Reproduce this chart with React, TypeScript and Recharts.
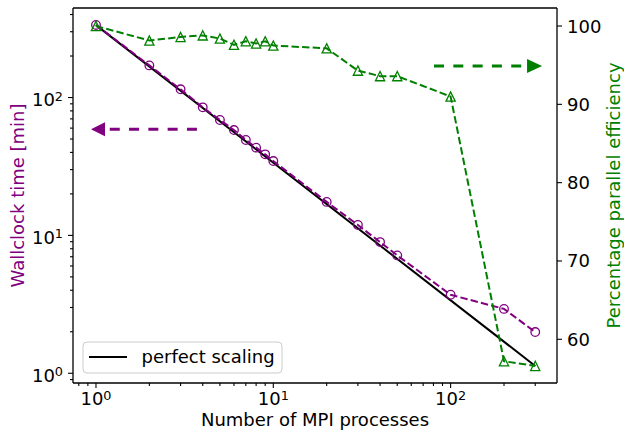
import React from 'react';
import {
  ComposedChart, Line, XAxis, YAxis, ReferenceLine, ReferenceDot,
} from 'recharts';

// ---- data ----
const processes = [1, 2, 3, 4, 5, 6, 7, 8, 9, 10, 20, 30, 40, 50, 100, 200, 300];
const wallclock = [336, 171, 114.7, 84.9, 68.7, 58.1, 49.2, 43.3, 38.7, 34.6, 17.5, 11.9, 8.94, 7.16, 3.71, 2.93, 1.99];
const efficiency = [100, 98.15, 98.6, 98.8, 98.4, 97.6, 98.06, 97.77, 98.04, 97.5, 97.15, 94.3, 93.6, 93.6, 91.0, 57.2, 56.6];
const perfectX = [1, 300];
const perfectY = [335, 1.13];

const xTicks = [0.8, 0.9, 1, 2, 3, 4, 5, 6, 7, 8, 9, 10, 20, 30, 40, 50, 60, 70, 80, 90, 100, 200, 300];
const yLeftTicks = [0.9, 1, 2, 3, 4, 5, 6, 7, 8, 9, 10, 20, 30, 40, 50, 60, 70, 80, 90, 100, 200, 300, 400];
const yRightTicks = [60, 70, 80, 90, 100];

const xDomain = [0.742, 398];
const yLeftDomain = [0.85, 446];
const yRightDomain = [54.42, 102.3];

// annotation arrows (data coords): tail x, head-base x, tip x, y
const leftArrow = { tail: 3.71, base: 1.124, tip: 0.937, y: 58.8 };
const rightArrow = { tail: 80.6, base: 269.8, tip: 327.8, y: 94.89 };

const PURPLE = '#800080';
const GREEN = '#008000';
const FONT = 'DejaVu Sans, sans-serif';
const FS = 18;

const wallData = processes.map((p, i) => ({ x: p, y: wallclock[i] }));
const effData = processes.map((p, i) => ({ x: p, y: efficiency[i] }));
const perfData = perfectX.map((p, i) => ({ x: p, y: perfectY[i] }));

const isMajor = (v: number) => {
  const e = Math.round(Math.log10(v));
  return Math.abs(v - Math.pow(10, e)) < 1e-9;
};

const XTick = (props: any) => {
  const { x, y, payload } = props;
  const v = payload.value;
  const major = isMajor(v);
  const e = Math.round(Math.log10(v));
  return (
    <g>
      <line x1={x} x2={x} y1={y} y2={y + (major ? 5 : 3)} stroke="#000" strokeWidth={1.1} />
      {major && (
        <text x={x} y={y + 22} textAnchor="middle" fontSize={FS} fontFamily={FONT} fill="#000">
          10<tspan dy={-5.5} fontSize={12.8}>{e}</tspan>
        </text>
      )}
    </g>
  );
};

const YLeftTick = (props: any) => {
  const { x, y, payload } = props;
  const v = payload.value;
  const major = isMajor(v);
  const e = Math.round(Math.log10(v));
  return (
    <g>
      <line x1={x} x2={x - (major ? 5 : 3)} y1={y} y2={y} stroke="#000" strokeWidth={1.1} />
      {major && (
        <text x={x - 10} y={y + 8.5} textAnchor="end" fontSize={FS} fontFamily={FONT} fill="#000">
          10<tspan dy={-5.5} fontSize={12.8}>{e}</tspan>
        </text>
      )}
    </g>
  );
};

const YRightTick = (props: any) => {
  const { x, y, payload } = props;
  return (
    <g>
      <line x1={x} x2={x + 5} y1={y} y2={y} stroke="#000" strokeWidth={1.1} />
      <text x={x + 10} y={y + 6.5} textAnchor="start" fontSize={FS} fontFamily={FONT} fill="#000">
        {payload.value}
      </text>
    </g>
  );
};

const circleDot = (p: any) => (
  <circle key={`c${p.index}`} cx={p.cx} cy={p.cy} r={4.3} fill="none" stroke={PURPLE} strokeWidth={1.3} />
);

const triDot = (p: any) => {
  const s = 4.6;
  const pts = `${p.cx},${p.cy - s} ${p.cx - s},${p.cy + s} ${p.cx + s},${p.cy + s}`;
  return <polygon key={`t${p.index}`} points={pts} fill="none" stroke={GREEN} strokeWidth={1.3} />;
};

const leftHead = (p: any) => {
  const { cx, cy } = p;
  return <polygon points={`${cx},${cy} ${cx + 14},${cy - 7} ${cx + 14},${cy + 7}`} fill={PURPLE} />;
};
const rightHead = (p: any) => {
  const { cx, cy } = p;
  return <polygon points={`${cx},${cy} ${cx - 15},${cy - 7} ${cx - 15},${cy + 7}`} fill={GREEN} />;
};

const XLabel = (props: any) => {
  const vb = props.viewBox;
  return (
    <text x={vb.x + vb.width / 2} y={vb.y + 43} textAnchor="middle" fontSize={FS} fontFamily={FONT} fill="#000">
      Number of MPI processes
    </text>
  );
};
const YLeftLabel = (props: any) => {
  const vb = props.viewBox;
  const cy = vb.y + vb.height / 2;
  return (
    <text transform={`translate(24,${cy}) rotate(-90)`} textAnchor="middle" fontSize={FS} fontFamily={FONT} fill={PURPLE}>
      Wallclock time [min]
    </text>
  );
};
const YRightLabel = (props: any) => {
  const vb = props.viewBox;
  const cy = vb.y + vb.height / 2;
  return (
    <text transform={`translate(620,${cy}) rotate(-90)`} textAnchor="middle" fontSize={FS} fontFamily={FONT} fill={GREEN}>
      Percentage parallel efficiency
    </text>
  );
};

const LegendBox = () => (
  <g>
    <rect x={83} y={342} width={199} height={31} rx={4} ry={4} fill="#ffffff" fillOpacity={0.8} stroke="#cccccc" strokeWidth={1} />
    <line x1={89} x2={127} y1={357} y2={357} stroke="#000" strokeWidth={2} />
    <text x={141.5} y={363} fontSize={FS} fontFamily={FONT} fill="#000">perfect scaling</text>
  </g>
);

export default function App() {
  return (
    <div style={{ position: 'absolute', left: 0, top: 0, width: 624, height: 434, background: '#fff' }}>
      <ComposedChart width={624} height={434} margin={{ top: 8, right: 0, bottom: 0, left: 0 }}>
        <XAxis
          dataKey="x"
          type="number"
          scale="log"
          domain={xDomain}
          allowDataOverflow
          ticks={xTicks}
          interval={0}
          tick={<XTick />}
          tickLine={false}
          tickSize={0}
          tickMargin={0}
          height={51}
          axisLine={{ stroke: '#000', strokeWidth: 1.3 }}
          label={<XLabel />}
        />
        <YAxis
          yAxisId="left"
          type="number"
          scale="log"
          domain={yLeftDomain}
          allowDataOverflow
          ticks={yLeftTicks}
          interval={0}
          tick={<YLeftTick />}
          tickLine={false}
          tickSize={0}
          tickMargin={0}
          width={73}
          axisLine={{ stroke: '#000', strokeWidth: 1.3 }}
          label={<YLeftLabel />}
        />
        <YAxis
          yAxisId="right"
          orientation="right"
          type="number"
          domain={yRightDomain}
          allowDataOverflow
          ticks={yRightTicks}
          interval={0}
          tick={<YRightTick />}
          tickLine={false}
          tickSize={0}
          tickMargin={0}
          width={67}
          axisLine={{ stroke: '#000', strokeWidth: 1.3 }}
          label={<YRightLabel />}
        />
        <ReferenceLine yAxisId="left" y={yLeftDomain[1]} stroke="#000" strokeWidth={1.3} ifOverflow="extendDomain" />

        <Line
          yAxisId="left"
          data={perfData}
          dataKey="y"
          type="linear"
          stroke="#000"
          strokeWidth={2}
          dot={false}
          isAnimationActive={false}
        />
        <Line
          yAxisId="left"
          data={wallData}
          dataKey="y"
          type="linear"
          stroke={PURPLE}
          strokeWidth={2}
          strokeDasharray="7.4 3.2"
          dot={circleDot}
          activeDot={false}
          isAnimationActive={false}
        />
        <ReferenceLine
          yAxisId="left"
          segment={[{ x: leftArrow.tail, y: leftArrow.y }, { x: leftArrow.base, y: leftArrow.y }]}
          stroke={PURPLE}
          strokeWidth={3}
          strokeDasharray="10 9.3"
        />
        <ReferenceDot yAxisId="left" x={leftArrow.tip} y={leftArrow.y} shape={leftHead} />

        <Line
          yAxisId="right"
          data={effData}
          dataKey="y"
          type="linear"
          stroke={GREEN}
          strokeWidth={2}
          strokeDasharray="7.4 3.2"
          dot={triDot}
          activeDot={false}
          isAnimationActive={false}
        />
        <ReferenceLine
          yAxisId="right"
          segment={[{ x: rightArrow.tail, y: rightArrow.y }, { x: rightArrow.base, y: rightArrow.y }]}
          stroke={GREEN}
          strokeWidth={3}
          strokeDasharray="10 9.3"
        />
        <ReferenceDot yAxisId="right" x={rightArrow.tip} y={rightArrow.y} shape={rightHead} />

        <LegendBox />
      </ComposedChart>
    </div>
  );
}
